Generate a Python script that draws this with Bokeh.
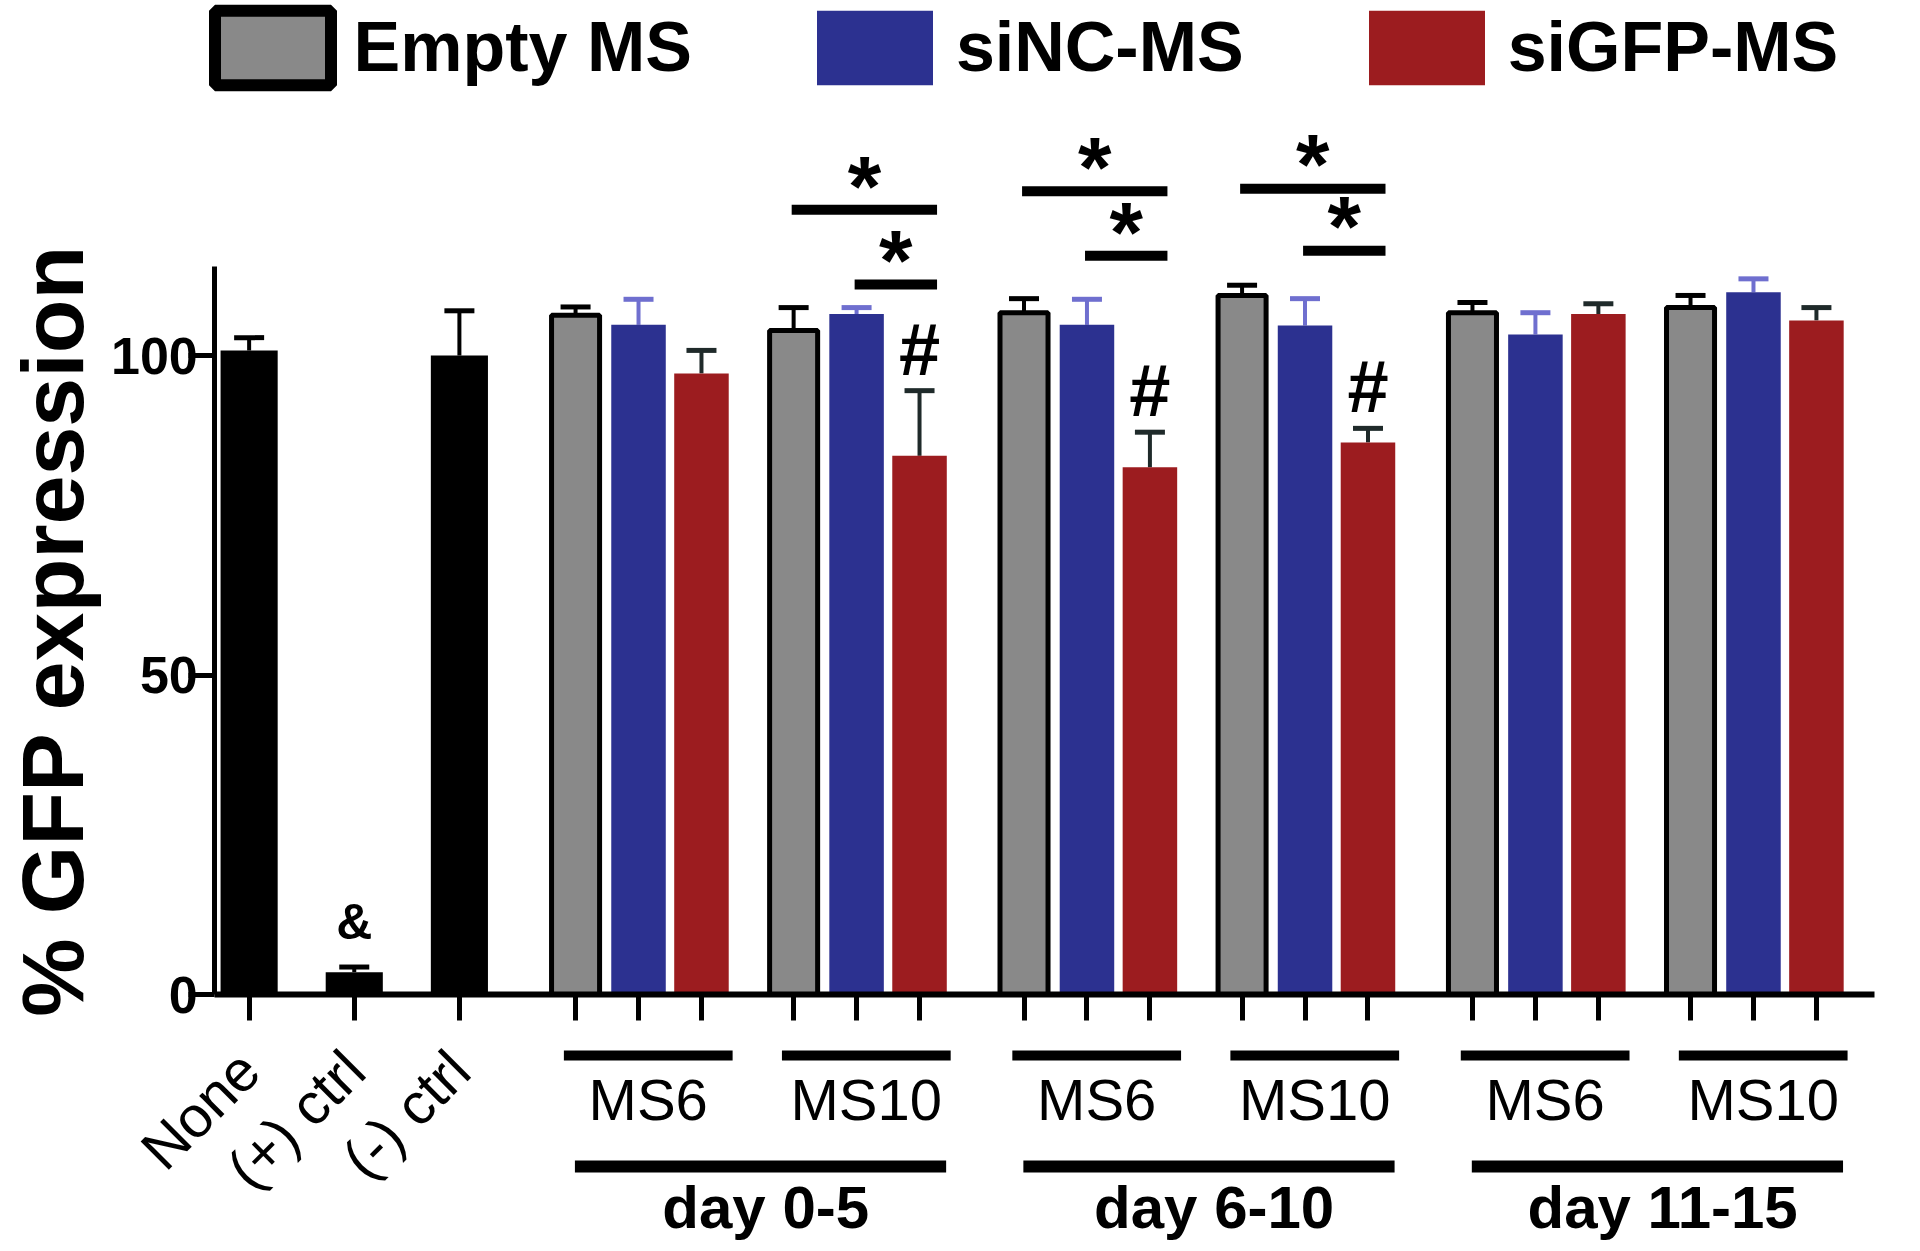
import math
from bokeh.plotting import figure
from bokeh.models import (Range1d, FixedTicker, ColumnDataSource, Whisker, TeeHead,
                          Legend, LegendItem)
from bokeh.core.properties import value
from bokeh.embed import file_html
from bokeh.resources import INLINE

# ---------------- data ----------------
series = ["Empty MS", "siNC-MS", "siGFP-MS"]
control_labels = ["None", "(+) ctrl", "(-) ctrl"]
control_means = [100.8, 3.5, 100.0]
control_errs = [2.0, 0.8, 7.0]

day_labels = ["day 0-5", "day 6-10", "day 11-15"]
ms_labels = ["MS6", "MS10"]
# order: d0-5 MS6, d0-5 MS10, d6-10 MS6, d6-10 MS10, d11-15 MS6, d11-15 MS10
empty_means = [106.3, 103.9, 106.7, 109.4, 106.7, 107.5]
empty_errs = [1.3, 3.6, 2.2, 1.6, 1.6, 1.9]
sinc_means = [104.8, 106.5, 104.8, 104.7, 103.3, 109.9]
sinc_errs = [4.0, 1.0, 4.0, 4.2, 3.4, 2.1]
sigfp_means = [97.2, 84.3, 82.5, 86.4, 106.5, 105.5]
sigfp_errs = [3.6, 10.2, 5.5, 2.2, 1.6, 2.0]

# significance brackets: (group index 0..5, from series, to series, bracket level)
sig_group = [1, 1, 2, 2, 3, 3]
sig_from = ["Empty MS", "siNC-MS", "Empty MS", "siNC-MS", "Empty MS", "siNC-MS"]
sig_to = ["siGFP-MS"] * 6
sig_level = [122.8, 111.1, 125.7, 115.6, 126.1, 116.4]
hash_groups = [1, 2, 3]          # '#' over siGFP-MS of these groups
amp_controls = [1]               # '&' over (+) ctrl

y_ticks = [0, 50, 100]

# ---------------- styles / layout ----------------
FONT = "Liberation Sans"
GRAY, BLUE, RED = "#898989", "#2c3190", "#9c1c1f"
fills = {"Empty MS": GRAY, "siNC-MS": BLUE, "siGFP-MS": RED}
err_colors = {"Empty MS": "black", "siNC-MS": "#6f6fcf", "siGFP-MS": "#1f2a2a"}
means = {"Empty MS": empty_means, "siNC-MS": sinc_means, "siGFP-MS": sigfp_means}
errs = {"Empty MS": empty_errs, "siNC-MS": sinc_errs, "siGFP-MS": sigfp_errs}

CTRL_STEP, BAR_STEP = 1.62, 0.97
FIRST_MID, MS_STEP, DAY_STEP = 6.0, 3.36, 6.91
AXIS_X = -0.53
X_END = 25.04
W, H = 1916, 1248

ctrl_x = [round(i * CTRL_STEP, 3) for i in range(len(control_labels))]
mids = [round(FIRST_MID + d * DAY_STEP + m * MS_STEP, 3)
        for d in range(len(day_labels)) for m in range(len(ms_labels))]
offs = {s: (i - 1) * BAR_STEP for i, s in enumerate(series)}
bar_x = {s: [round(m + offs[s], 3) for m in mids] for s in series}

p = figure(width=W, height=H, output_backend="svg", toolbar_location=None,
           x_range=Range1d(-3.831, 25.692), y_range=Range1d(-39.75, 155.56),
           min_border_left=0, min_border_right=0, min_border_top=0,
           min_border_bottom=0)
p.outline_line_color = None
p.grid.visible = False
p.background_fill_color = "white"

# ---- axes (placed at fixed data locations) ----
xa = p.xaxis[0]
xa.fixed_location = 0
xa.bounds = (AXIS_X, X_END)
all_ticks = ctrl_x + [x for s in series for x in bar_x[s]]
xa.ticker = FixedTicker(ticks=sorted(all_ticks))
overrides = {t: "" for t in all_ticks}
for t, lab in zip(ctrl_x, control_labels):
    overrides[t] = lab
xa.major_label_overrides = overrides
xa.major_label_orientation = math.pi / 4
xa.axis_line_width = 6
xa.major_tick_line_width = 5
xa.major_tick_out = 26
xa.major_tick_in = 0
xa.minor_tick_line_color = None
xa.major_label_text_font = FONT
xa.major_label_text_font_size = "58px"
xa.major_label_text_color = "black"
xa.major_label_standoff = 40

ya = p.yaxis[0]
ya.fixed_location = AXIS_X
ya.bounds = (0, 114)
ya.ticker = FixedTicker(ticks=y_ticks)
ya.axis_line_width = 5
ya.major_tick_line_width = 5
ya.major_tick_out = 26
ya.major_tick_in = 0
ya.minor_tick_line_color = None
ya.major_label_text_font = FONT
ya.major_label_text_font_style = "bold"
ya.major_label_text_font_size = "52px"
ya.major_label_text_color = "black"
ya.major_label_standoff = -9
ya.axis_label = "% GFP expression"
ya.axis_label_text_font = FONT
ya.axis_label_text_font_style = "bold"
ya.axis_label_text_font_size = "88px"
ya.axis_label_text_color = "black"
ya.axis_label_standoff = 6

# ---- control bars ----
csrc = ColumnDataSource(dict(x=ctrl_x, top=control_means,
                             upper=[m + e for m, e in zip(control_means, control_errs)]))
p.vbar(x="x", top="top", width=0.88, source=csrc, fill_color="black", line_color=None)
p.add_layout(Whisker(source=csrc, base="x", lower="top", upper="upper", dimension="height",
                     line_color="black", line_width=4, lower_head=None,
                     upper_head=TeeHead(size=30, line_width=5, line_color="black")))

# ---- grouped bars ----
bar_r = {}
for s in series:
    src = ColumnDataSource(dict(x=bar_x[s], top=means[s],
                                upper=[m + e for m, e in zip(means[s], errs[s])]))
    if s == "Empty MS":
        p.vbar(x="x", top="top", width=0.74, source=src, fill_color=fills[s],
               line_color="black", line_width=5)
        # zero-size proxy used only for the legend swatch (thicker border)
        bar_r[s] = p.vbar(x="x", top=0, bottom=0, width=0, source=src,
                          fill_color=fills[s], line_color="black", line_width=12)
    else:
        bar_r[s] = p.vbar(x="x", top="top", width=0.84, source=src, fill_color=fills[s],
                          line_color=None)
    p.add_layout(Whisker(source=src, base="x", lower="top", upper="upper", dimension="height",
                         line_color=err_colors[s], line_width=4, lower_head=None,
                         upper_head=TeeHead(size=30, line_width=5, line_color=err_colors[s])))

# ---- grouping lines and labels under the axis ----
sub_c = [m + 0.15 for m in mids]
p.segment(x0=[c - 1.3 for c in sub_c], x1=[c + 1.3 for c in sub_c],
          y0=[-9.55] * len(mids), y1=[-9.55] * len(mids),
          line_color="black", line_width=10, line_cap="butt")
p.text(x=sub_c, y=[-16.45] * len(mids),
       text=[ms_labels[i % 2] for i in range(len(mids))],
       text_font=value(FONT), text_font_size="58px", text_align="center",
       text_baseline="alphabetic", text_color="black")

day_c = [(mids[2 * d] + mids[2 * d + 1]) / 2 for d in range(len(day_labels))]
p.segment(x0=[c + 0.2 - 2.86 for c in day_c], x1=[c + 0.2 + 2.86 for c in day_c],
          y0=[-26.9] * 3, y1=[-26.9] * 3, line_color="black", line_width=12,
          line_cap="butt")
p.text(x=[c + 0.28 for c in day_c], y=[-33.35] * 3, text=day_labels,
       text_font=value(FONT), text_font_style="bold", text_font_size="60px",
       text_align="center", text_baseline="alphabetic", text_color="black")

# ---- significance brackets ----
bx0 = [bar_x[f][g] - 0.03 for g, f in zip(sig_group, sig_from)]
bx1 = [bar_x[t][g] + 0.27 for g, t in zip(sig_group, sig_to)]
p.segment(x0=bx0, x1=bx1, y0=sig_level, y1=sig_level, line_color="black",
          line_width=10, line_cap="butt")
p.text(x=[(a + b) / 2 for a, b in zip(bx0, bx1)], y=[l + 3.8 for l in sig_level],
       text=["*"] * len(sig_level), text_font=value(FONT), text_font_style="bold",
       text_font_size="86px", text_align="center", text_baseline="alphabetic",
       text_color="black")

# ---- '#' and '&' marks ----
hx = [bar_x["siGFP-MS"][g] for g in hash_groups]
hy = [sigfp_means[g] + sigfp_errs[g] + 6.5 for g in hash_groups]
p.text(x=hx, y=hy, text=["#"] * len(hx), text_font=value(FONT), text_font_style="bold",
       text_font_size="74px", text_align="center", text_baseline="alphabetic",
       text_color="black")
ax = [ctrl_x[i] for i in amp_controls]
ay = [control_means[i] + control_errs[i] + 7.0 for i in amp_controls]
p.text(x=ax, y=ay, text=["&"] * len(ax), text_font=value(FONT), text_font_style="bold",
       text_font_size="50px", text_align="center", text_baseline="alphabetic",
       text_color="black")

# ---- legend ----
legend = Legend(items=[LegendItem(label=s, renderers=[bar_r[s]]) for s in series],
                orientation="horizontal", location=(199.5, 1154.5),
                glyph_width=145, glyph_height=93, label_standoff=9, spacing=110,
                padding=0, margin=0, border_line_color=None, background_fill_alpha=0,
                label_text_font=FONT, label_text_font_style="bold",
                label_text_font_size="70px", label_text_color="black")
p.add_layout(legend)

open("out.html", "w").write(file_html(p, INLINE))
